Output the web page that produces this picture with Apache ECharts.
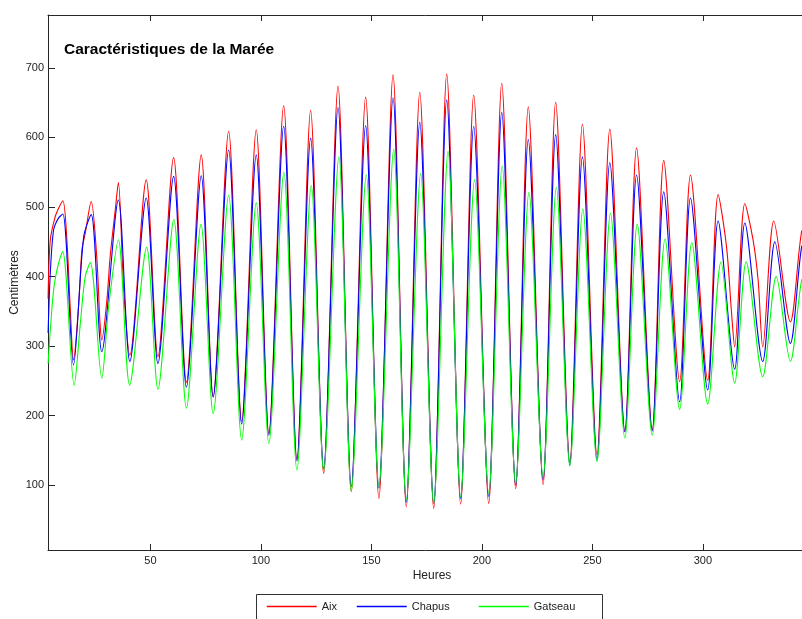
<!DOCTYPE html>
<html>
<head>
<meta charset="utf-8">
<script src="https://cdn.jsdelivr.net/npm/echarts@6/dist/echarts.min.js"></script>
<style>
  html, body { margin: 0; padding: 0; background: #fff; }
  #chart { width: 802px; height: 619px; }
</style>
</head>
<body>
<div id="chart"></div>
<script>
// Tide heights (cm) against time (hours) for three stations.
const stations = ['Aix', 'Chapus', 'Gatseau'];

const aix = [
  [3.7, 368], [4.7, 453], [6.9, 486], [8.4, 498], [10.4, 509], [12.2, 453], [13.7, 357], [15.2, 280],
  [17.5, 357], [19.0, 438], [20.5, 462], [23.2, 508], [25.7, 429], [27.2, 333], [28.0, 309],
  [30.3, 366], [31.8, 429], [34.1, 496], [35.5, 535], [37.9, 381], [40.7, 287],
  [48.1, 539], [53.4, 285], [60.5, 571], [66.3, 248], [73.0, 575], [78.4, 227],
  [85.4, 609], [91.3, 192], [97.9, 611], [103.6, 175], [110.3, 646], [116.3, 137],
  [122.5, 639], [128.4, 117], [134.9, 674], [140.9, 91], [147.4, 658], [153.4, 81],
  [159.8, 690], [165.8, 69], [171.9, 665], [178.2, 67], [184.1, 691], [190.4, 73],
  [196.3, 661], [203.1, 74], [209.0, 678], [215.3, 95], [221.0, 644], [227.7, 101],
  [233.4, 651], [239.8, 133], [245.5, 619], [252.1, 144], [257.9, 612], [264.7, 177],
  [270.0, 585], [277.1, 180], [282.3, 567], [289.5, 249], [294.4, 546], [302.2, 251],
  [306.9, 518], [310.7, 443], [313.0, 347], [314.4, 299], [319.0, 505], [322.7, 453],
  [325.0, 395], [327.1, 299], [332.1, 480], [339.6, 335], [344.7, 465], [347.0, 470]
];

const chapus = [
  [3.7, 319], [4.7, 405], [6.2, 467], [8.4, 484], [10.4, 490], [15.2, 273],
  [19.8, 457], [23.2, 489], [28.0, 292], [35.5, 510], [40.7, 278],
  [48.1, 513], [53.4, 275], [60.5, 544], [66.3, 241], [73.0, 545], [78.4, 227],
  [85.4, 582], [91.3, 188], [97.9, 575], [103.6, 172], [110.3, 616], [116.3, 135],
  [122.5, 599], [128.4, 124], [134.9, 643], [140.9, 98], [147.4, 617], [153.4, 96],
  [159.8, 657], [165.8, 76], [171.9, 622], [178.2, 74], [184.1, 654], [190.4, 81],
  [196.3, 616], [203.1, 84], [209.0, 636], [215.3, 100], [221.0, 597], [227.7, 108],
  [233.4, 604], [239.8, 129], [245.5, 572], [252.1, 136], [257.9, 564], [264.7, 177],
  [270.0, 546], [277.1, 178], [282.3, 522], [289.5, 220], [294.4, 513], [302.2, 237],
  [306.9, 480], [314.4, 267], [319.0, 477], [327.1, 278], [332.6, 450], [339.6, 304],
  [344.7, 443], [347.0, 446]
];

const gatseau = [
  [3.7, 275], [6.2, 381], [8.4, 419], [10.3, 436], [15.5, 244], [18.3, 333], [20.5, 400],
  [22.8, 420], [28.0, 254], [31.1, 357], [35.5, 453], [40.6, 244],
  [48.3, 442], [53.4, 238], [60.6, 482], [66.3, 211], [72.9, 475], [78.4, 203],
  [85.4, 517], [91.3, 165], [97.9, 506], [103.6, 160], [110.4, 550], [116.3, 122],
  [122.8, 531], [128.4, 121], [135.3, 572], [140.9, 91], [147.7, 546], [153.4, 98],
  [160.1, 583], [165.8, 79], [172.3, 548], [178.2, 74], [184.7, 580], [190.4, 83],
  [196.7, 539], [203.1, 88], [209.2, 559], [215.3, 103], [221.3, 521], [227.7, 112],
  [233.7, 528], [239.8, 128], [245.7, 497], [252.1, 134], [258.2, 491], [264.7, 168],
  [270.3, 475], [277.1, 172], [282.9, 454], [289.5, 209], [295.0, 449], [302.2, 217],
  [308.2, 421], [314.4, 247], [319.6, 421], [327.1, 256], [333.2, 400], [339.6, 278],
  [344.7, 395], [347.0, 398]
];

const seriesData = [aix, chapus, gatseau];
const seriesColors = ['#ff0000', '#0000ff', '#00ff00'];

const xTicks = [50, 100, 150, 200, 250, 300];
const yTicks = [100, 200, 300, 400, 500, 600, 700];

const font = 'Liberation Sans, Arial, Helvetica, sans-serif';
const axisColor = '#262626';
const textColor = '#222';

// Left edge of each legend entry (sample line start), in pixels.
const legendLefts = [266, 356, 478];

const chart = echarts.init(document.getElementById('chart'), null, { renderer: 'canvas' });

const baseX = {
  type: 'value', min: 3.66, max: 351.2, splitNumber: 7,
  axisLine: { show: true, onZero: false, lineStyle: { color: axisColor, width: 1 } },
  axisTick: { show: true, inside: true, length: 6, lineStyle: { color: axisColor } },
  splitLine: { show: false }
};
const baseY = {
  type: 'value', min: 7, max: 776, splitNumber: 8,
  axisLine: { show: true, onZero: false, lineStyle: { color: axisColor, width: 1 } },
  axisTick: { show: true, inside: true, length: 7, lineStyle: { color: axisColor } },
  splitLine: { show: false }
};

chart.setOption({
  animation: false,
  backgroundColor: '#ffffff',
  title: {
    text: 'Caractéristiques de la Marée',
    left: 64, top: 42, padding: 0,
    textStyle: { fontFamily: font, fontSize: 15.5, fontWeight: 'bold', color: '#000' }
  },
  grid: {
    left: 48, top: 15, bottom: 69, right: -14,
    containLabel: false, outerBoundsMode: 'none'
  },
  legend: stations.map((name, i) => ({
    data: [name],
    left: legendLefts[i], top: 601,
    orient: 'horizontal',
    padding: 0,
    itemWidth: 50, itemHeight: 14, itemGap: 0,
    textStyle: { fontFamily: font, fontSize: 11, color: textColor },
    itemStyle: { opacity: 0 },
    lineStyle: { width: 1.5 }
  })),
  graphic: [{
    type: 'rect',
    shape: { x: 256.5, y: 594.5, width: 346, height: 60 },
    style: { fill: 'none', stroke: '#333', lineWidth: 1 },
    silent: true
  }],
  xAxis: [
    Object.assign({}, baseX, {
      position: 'bottom',
      name: 'Heures', nameLocation: 'middle', nameGap: 20, nameMoveOverlap: false,
      nameTextStyle: { fontFamily: font, fontSize: 12, color: textColor },
      axisLabel: {
        show: true, margin: 5, showMinLabel: false, showMaxLabel: false,
        fontFamily: font, fontSize: 11, color: textColor,
        formatter: v => (xTicks.indexOf(v) >= 0 ? String(v) : '')
      }
    }),
    Object.assign({}, baseX, { position: 'top', axisLabel: { show: false } })
  ],
  yAxis: [
    Object.assign({}, baseY, {
      position: 'left',
      name: 'Centimètres', nameLocation: 'middle', nameGap: 27, nameMoveOverlap: false,
      nameTextStyle: { fontFamily: font, fontSize: 12, color: textColor },
      axisLabel: {
        show: true, margin: 4, showMinLabel: false, showMaxLabel: false,
        fontFamily: font, fontSize: 11, color: textColor,
        formatter: v => (yTicks.indexOf(v) >= 0 ? String(v) : '')
      }
    }),
    Object.assign({}, baseY, { position: 'right', axisLabel: { show: false } })
  ],
  series: stations.map((name, i) => ({
    name: name,
    type: 'line',
    xAxisIndex: 0, yAxisIndex: 0,
    data: seriesData[i],
    symbol: 'none',
    smooth: 0.3,
    clip: true,
    lineStyle: { color: seriesColors[i], width: 1.1 },
    itemStyle: { color: seriesColors[i] }
  }))
});
</script>
</body>
</html>
